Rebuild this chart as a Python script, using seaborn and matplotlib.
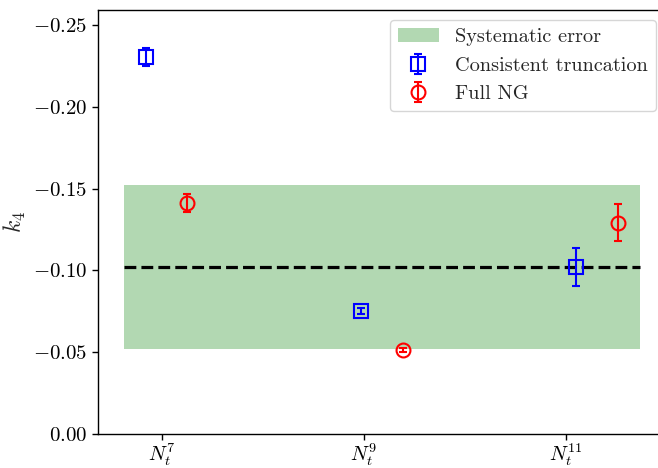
import numpy as np
import pandas as pd
import matplotlib
matplotlib.use("Agg")
import matplotlib.pyplot as plt
import seaborn as sns

# ---- data ----
tick_pos = [7, 9, 11]
tick_labels = [r"$N_t^{7}$", r"$N_t^{9}$", r"$N_t^{11}$"]

ct_x = [6.84, 8.97, 11.10]
ct_y = [-0.2305, -0.0752, -0.1020]
ct_err = [0.0053, 0.0018, 0.0115]

ng_x = [7.25, 9.39, 11.52]
ng_y = [-0.1415, -0.0513, -0.1292]
ng_err = [0.0055, 0.0010, 0.0114]

band_x = [6.625, 11.738]
band_center = -0.102
band_halfwidth = 0.050

sns.set_theme(style="ticks")
plt.rcParams.update({
    "font.family": "serif",
    "font.serif": ["cmr10", "DejaVu Serif"],
    "mathtext.fontset": "cm",
    "axes.formatter.use_mathtext": True,
    "font.size": 15,
    "axes.edgecolor": "black",
    "axes.linewidth": 1.0,
    "xtick.color": "black",
    "ytick.color": "black",
})

fig = plt.figure(figsize=(6.58, 4.68), dpi=100)
ax = fig.add_axes([98/658, (468-434)/468, (666-98)/658, (434-10)/468])

band = ax.fill_between(band_x, band_center - band_halfwidth, band_center + band_halfwidth,
                       color="green", alpha=0.3, linewidth=0, label="Systematic error")

line_df = pd.DataFrame({"x": band_x, "y": [band_center, band_center]})
sns.lineplot(data=line_df, x="x", y="y", ax=ax, color="black", linestyle="--",
             linewidth=2.3, legend=False)

e1 = ax.errorbar(ct_x, ct_y, yerr=ct_err, fmt="s", color="blue", mfc="none",
                 markersize=10, capsize=3, elinewidth=1.5, markeredgewidth=1.5,
                 label="Consistent truncation")
e2 = ax.errorbar(ng_x, ng_y, yerr=ng_err, fmt="o", color="red", mfc="none",
                 markersize=10, capsize=3, elinewidth=1.5, markeredgewidth=1.5,
                 label="Full NG")

ax.set_xlim(6.369, 11.994)
ax.set_ylim(0.0, -0.2592)
ax.set_yticks([0.0, -0.05, -0.10, -0.15, -0.20, -0.25])
ax.set_yticklabels([r"$0.00$", r"$-0.05$", r"$-0.10$", r"$-0.15$", r"$-0.20$", r"$-0.25$"])
ax.set_xticks(tick_pos)
ax.set_xticklabels(tick_labels)
ax.set_xlabel("")
ax.set_ylabel(r"$k_4$", fontsize=17)
ax.tick_params(axis="both", labelsize=15, length=4, width=1)
ax.tick_params(axis="x", pad=1, labelsize=14.5)

leg = ax.legend(handles=[band, e1, e2], loc="upper right",
                fontsize=14.6, frameon=True, fancybox=True, framealpha=0.8,
                edgecolor="#cccccc")

fig.savefig("out.png", dpi=100)
